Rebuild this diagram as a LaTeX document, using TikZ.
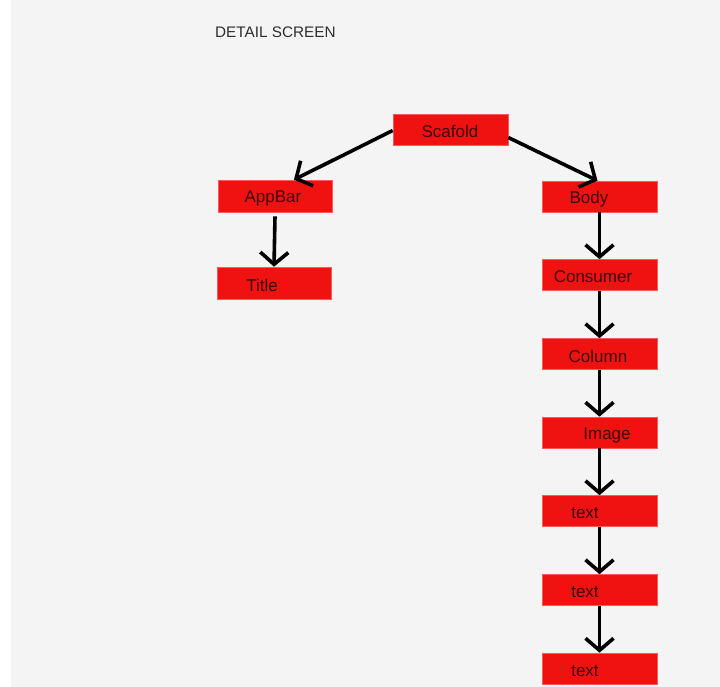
\documentclass[tikz,border=0pt]{standalone}
\usepackage{fontspec}
\setmainfont{Liberation Sans}
\usetikzlibrary{arrows.meta}
\definecolor{bg}{RGB}{244,244,244}
\definecolor{boxred}{RGB}{240,17,17}
\definecolor{boxedge}{RGB}{250,90,90}
\definecolor{lbltext}{RGB}{60,6,6}
\definecolor{headtext}{RGB}{45,45,45}
\tikzset{
  box/.style={rectangle, fill=boxred, draw=boxedge, line width=0.6pt, minimum width=114pt, minimum height=31pt, inner sep=0pt},
  lbl/.style={font=\fontsize{17}{19}\selectfont, text=lbltext, inner sep=0pt},
  arr/.style={line width=3.6pt, -{Straight Barb[length=12pt,width=28pt,line width=3.6pt]}},
}
\begin{document}
\begin{tikzpicture}[x=1pt,y=-1pt]
\useasboundingbox (0,0) rectangle (720,687);
\fill[white] (0,0) rectangle (720,687);
\fill[bg] (11,0) rectangle (720,687);
\node[anchor=west, font=\fontsize{15.3}{18}\selectfont, text=headtext, inner sep=0pt] (head) at (215,32) {DETAIL SCREEN};
% boxes
\node[box, minimum width=115pt] (scafold) at (450.5,129.5) {};
\node[lbl] (lscafold) at (450,131) {Scafold};
\node[box, minimum height=32pt] (appbar) at (275,196) {};
\node[lbl] (lappbar) at (273,198) {AppBar};
\node[box, minimum height=32pt] (title) at (274,283) {};
\node[lbl] (ltitle) at (262,285) {Title};
\node[box, minimum width=115pt] (body) at (599.5,196.5) {};
\node[lbl] (lbody) at (589,199) {Body};
\node[box, minimum width=115pt] (consumer) at (599.5,275) {};
\node[lbl] (lconsumer) at (593,277) {Consumer};
\node[box, minimum width=115pt] (column) at (599.5,354) {};
\node[lbl] (lcolumn) at (598,356) {Column};
\node[box, minimum width=115pt] (image) at (599.5,432.5) {};
\node[lbl] (limage) at (607,435) {Image};
\node[box, minimum width=115pt] (texta) at (599.5,511) {};
\node[lbl] (ltexta) at (585,513) {text};
\node[box, minimum width=115pt] (textb) at (599.5,590) {};
\node[lbl] (ltextb) at (585,592) {text};
\node[box, minimum width=115pt] (textc) at (599.5,668.5) {};
\node[lbl] (ltextc) at (585,671) {text};
% connectors
\draw[arr] ([yshift=-1pt]scafold.west) -- ([xshift=19pt]appbar.north);
\draw[arr] ([yshift=-8pt]scafold.east) -- ([xshift=-2pt]body.north);
\draw[arr] ([yshift=-4pt]appbar.south) -- (title.north);
\draw[arr] (body.south) -- (consumer.north);
\draw[arr] (consumer.south) -- (column.north);
\draw[arr] (column.south) -- (image.north);
\draw[arr] (image.south) -- (texta.north);
\draw[arr] (texta.south) -- (textb.north);
\draw[arr] (textb.south) -- (textc.north);
\end{tikzpicture}
\end{document}
